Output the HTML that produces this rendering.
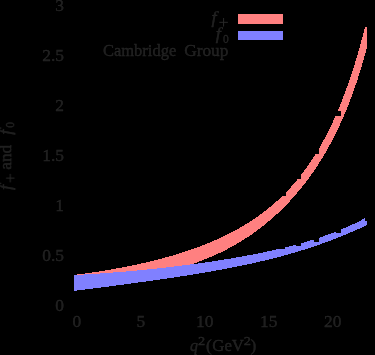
<!DOCTYPE html>
<html><head><meta charset="utf-8"><style>
html,body{margin:0;padding:0;background:#000;}
svg{display:block}
text{font-family:"Liberation Serif",serif;fill:#202020;font-size:16px;stroke:#2a2a2a;stroke-width:0.35px}
.i{font-style:italic}
.s{font-size:11.5px}
</style></head><body>
<svg width="375" height="355" viewBox="0 0 375 355">
<rect width="375" height="355" fill="#000"/>
<g shape-rendering="crispEdges">
<polygon fill="#ff8080" points="74.0,274.9 75.0,274.7 76.0,274.6 77.0,274.5 78.0,274.4 79.0,274.3 80.0,274.1 81.0,274.0 82.0,273.9 83.0,273.7 84.0,273.6 85.0,273.5 86.0,273.3 87.0,273.2 88.0,273.1 89.0,272.9 90.0,272.8 91.0,272.6 92.0,272.5 93.0,272.4 94.0,272.2 95.0,272.1 96.0,271.9 97.0,271.8 98.0,271.6 99.0,271.5 100.0,271.3 101.0,271.2 102.0,271.0 103.0,270.8 104.0,270.7 105.0,270.5 106.0,270.3 107.0,270.2 108.0,270.0 109.0,269.8 110.0,269.7 111.0,269.5 112.0,269.3 113.0,269.2 114.0,269.0 115.0,268.8 116.0,268.6 117.0,268.4 118.0,268.3 119.0,268.1 120.0,267.9 121.0,267.7 122.0,267.5 123.0,267.3 124.0,267.1 125.0,266.9 126.0,266.7 127.0,266.5 128.0,266.3 129.0,266.1 130.0,265.9 131.0,265.7 132.0,265.5 133.0,265.3 134.0,265.1 135.0,264.9 136.0,264.7 137.0,264.5 138.0,264.3 139.0,264.0 140.0,263.8 141.0,263.6 142.0,263.4 143.0,263.1 144.0,262.9 145.0,262.7 146.0,262.5 147.0,262.2 148.0,262.0 149.0,261.7 150.0,261.5 151.0,261.3 152.0,261.0 153.0,260.8 154.0,260.5 155.0,260.3 156.0,260.0 157.0,259.8 158.0,259.5 159.0,259.2 160.0,259.0 161.0,258.7 162.0,258.5 163.0,258.2 164.0,257.9 165.0,257.6 166.0,257.4 167.0,257.1 168.0,256.8 169.0,256.5 170.0,256.2 171.0,256.0 172.0,255.7 173.0,255.4 174.0,255.1 175.0,254.8 176.0,254.5 177.0,254.2 178.0,253.9 179.0,253.6 180.0,253.2 181.0,252.9 182.0,252.6 183.0,252.3 184.0,252.0 185.0,251.6 186.0,251.3 187.0,251.0 188.0,250.6 189.0,250.3 190.0,250.0 191.0,249.6 192.0,249.3 193.0,248.9 194.0,248.6 195.0,248.2 196.0,247.8 197.0,247.5 198.0,247.1 199.0,246.7 200.0,246.4 201.0,246.0 202.0,245.6 203.0,245.2 204.0,244.8 205.0,244.4 206.0,244.0 207.0,243.6 208.0,243.2 209.0,242.8 210.0,242.4 211.0,242.0 212.0,241.6 213.0,241.1 214.0,240.7 215.0,240.3 216.0,239.8 217.0,239.4 218.0,238.9 219.0,238.5 220.0,238.0 221.0,237.6 222.0,237.1 223.0,236.6 224.0,236.1 225.0,235.7 226.0,235.2 227.0,234.7 228.0,234.2 229.0,233.7 230.0,233.2 231.0,232.7 232.0,232.1 233.0,231.6 234.0,231.1 235.0,230.5 236.0,230.0 237.0,229.4 238.0,228.9 239.0,228.3 240.0,227.8 241.0,227.2 242.0,226.6 243.0,226.0 244.0,225.4 245.0,224.8 246.0,224.2 247.0,223.6 248.0,222.9 249.0,222.3 250.0,221.7 251.0,221.0 252.0,220.4 253.0,219.7 254.0,219.0 255.0,218.4 256.0,217.7 257.0,217.0 258.0,216.3 259.0,215.6 260.0,214.8 261.0,214.1 262.0,213.4 263.0,212.6 264.0,211.8 265.0,211.1 266.0,210.3 267.0,209.5 268.0,208.7 269.0,207.9 270.0,207.1 271.0,206.2 272.0,205.4 273.0,204.5 274.0,203.7 275.0,202.8 276.0,201.9 277.0,201.0 278.0,200.1 279.0,199.2 280.0,198.2 281.0,197.3 282.0,196.3 283.0,195.3 284.0,194.3 285.0,193.3 286.0,192.3 287.0,191.3 288.0,190.2 289.0,189.1 290.0,188.1 291.0,187.0 292.0,185.8 293.0,184.7 294.0,183.6 295.0,182.4 296.0,181.2 297.0,180.0 298.0,178.8 299.0,177.6 300.0,176.3 301.0,175.0 302.0,173.8 303.0,172.4 304.0,171.1 305.0,169.8 306.0,168.4 307.0,167.0 308.0,165.6 309.0,164.1 310.0,162.7 311.0,161.2 312.0,159.7 313.0,158.1 314.0,156.6 315.0,155.0 316.0,153.4 317.0,151.7 318.0,150.1 319.0,148.4 320.0,146.7 321.0,144.9 322.0,143.2 323.0,141.3 324.0,139.5 325.0,137.6 326.0,135.7 327.0,133.8 328.0,131.8 329.0,129.8 330.0,127.8 331.0,125.7 332.0,123.6 333.0,121.5 334.0,119.3 335.0,117.1 336.0,114.8 337.0,112.5 338.0,110.2 339.0,107.8 340.0,105.4 341.0,102.9 342.0,100.4 343.0,97.8 344.0,95.2 345.0,92.5 346.0,89.8 347.0,87.1 348.0,84.3 349.0,81.4 350.0,78.5 351.0,75.5 352.0,72.5 353.0,69.4 354.0,66.2 355.0,63.0 356.0,59.8 357.0,56.4 358.0,53.0 359.0,49.6 360.0,46.0 361.0,42.4 362.0,38.7 363.0,35.0 364.0,31.1 365.0,27.2 366.0,26.9 367.0,26.9 367.0,47.4 366.0,51.1 365.0,54.7 364.0,58.3 363.0,61.8 362.0,65.2 361.0,68.5 360.0,71.7 359.0,74.9 358.0,78.0 357.0,81.1 356.0,84.0 355.0,87.0 354.0,89.8 353.0,92.6 352.0,95.4 351.0,98.1 350.0,100.7 349.0,103.3 348.0,105.8 347.0,108.3 346.0,110.8 345.0,113.2 344.0,115.5 343.0,117.8 342.0,120.1 341.0,122.3 340.0,124.5 339.0,126.7 338.0,128.8 337.0,130.9 336.0,132.9 335.0,135.0 334.0,136.9 333.0,138.9 332.0,140.8 331.0,142.7 330.0,144.6 329.0,146.4 328.0,148.2 327.0,150.0 326.0,151.7 325.0,153.4 324.0,155.1 323.0,156.8 322.0,158.5 321.0,160.1 320.0,161.7 319.0,163.3 318.0,164.8 317.0,166.3 316.0,167.9 315.0,169.3 314.0,170.8 313.0,172.3 312.0,173.7 311.0,175.1 310.0,176.5 309.0,177.9 308.0,179.2 307.0,180.6 306.0,181.9 305.0,183.2 304.0,184.5 303.0,185.8 302.0,187.0 301.0,188.3 300.0,189.5 299.0,190.7 298.0,191.9 297.0,193.1 296.0,194.3 295.0,195.4 294.0,196.6 293.0,197.7 292.0,198.8 291.0,199.9 290.0,201.0 289.0,202.1 288.0,203.1 287.0,204.2 286.0,205.2 285.0,206.2 284.0,207.2 283.0,208.2 282.0,209.2 281.0,210.2 280.0,211.2 279.0,212.1 278.0,213.1 277.0,214.0 276.0,214.9 275.0,215.8 274.0,216.7 273.0,217.6 272.0,218.5 271.0,219.4 270.0,220.2 269.0,221.1 268.0,221.9 267.0,222.8 266.0,223.6 265.0,224.4 264.0,225.2 263.0,226.0 262.0,226.8 261.0,227.6 260.0,228.3 259.0,229.1 258.0,229.8 257.0,230.6 256.0,231.3 255.0,232.0 254.0,232.8 253.0,233.5 252.0,234.2 251.0,234.9 250.0,235.5 249.0,236.2 248.0,236.9 247.0,237.6 246.0,238.2 245.0,238.8 244.0,239.5 243.0,240.1 242.0,240.7 241.0,241.4 240.0,242.0 239.0,242.6 238.0,243.2 237.0,243.8 236.0,244.3 235.0,244.9 234.0,245.5 233.0,246.0 232.0,246.6 231.0,247.1 230.0,247.7 229.0,248.2 228.0,248.8 227.0,249.3 226.0,249.8 225.0,250.3 224.0,250.8 223.0,251.3 222.0,251.8 221.0,252.3 220.0,252.8 219.0,253.2 218.0,253.7 217.0,254.2 216.0,254.6 215.0,255.1 214.0,255.5 213.0,256.0 212.0,256.4 211.0,256.8 210.0,257.3 209.0,257.7 208.0,258.1 207.0,258.5 206.0,258.9 205.0,259.3 204.0,259.7 203.0,260.1 202.0,260.5 201.0,260.9 200.0,261.3 199.0,261.7 198.0,262.0 197.0,262.4 196.0,262.7 195.0,263.1 194.0,263.5 193.0,263.8 192.0,264.2 191.0,264.5 190.0,264.8 189.0,265.2 188.0,265.5 187.0,265.8 186.0,266.1 185.0,266.5 184.0,266.8 183.0,267.1 182.0,267.4 181.0,267.7 180.0,268.0 179.0,268.3 178.0,268.6 177.0,268.9 176.0,269.2 175.0,269.5 174.0,269.7 173.0,270.0 172.0,270.3 171.0,270.6 170.0,270.8 169.0,271.1 168.0,271.4 167.0,271.6 166.0,271.9 165.0,272.1 164.0,272.4 163.0,272.7 162.0,272.9 161.0,273.1 160.0,273.4 159.0,273.6 158.0,273.9 157.0,274.1 156.0,274.4 155.0,274.6 154.0,274.8 153.0,275.0 152.0,275.3 151.0,275.5 150.0,275.7 149.0,276.0 148.0,276.2 147.0,276.4 146.0,276.6 145.0,276.8 144.0,277.0 143.0,277.3 142.0,277.5 141.0,277.7 140.0,277.9 139.0,278.1 138.0,278.3 137.0,278.5 136.0,278.7 135.0,278.9 134.0,279.1 133.0,279.3 132.0,279.5 131.0,279.7 130.0,279.9 129.0,280.1 128.0,280.3 127.0,280.5 126.0,280.7 125.0,280.9 124.0,281.1 123.0,281.3 122.0,281.5 121.0,281.7 120.0,281.9 119.0,282.1 118.0,282.3 117.0,282.5 116.0,282.7 115.0,282.9 114.0,283.1 113.0,283.3 112.0,283.5 111.0,283.6 110.0,283.8 109.0,284.0 108.0,284.2 107.0,284.4 106.0,284.6 105.0,284.8 104.0,285.0 103.0,285.2 102.0,285.4 101.0,285.6 100.0,285.8 99.0,286.0 98.0,286.2 97.0,286.4 96.0,286.6 95.0,286.8 94.0,287.0 93.0,287.2 92.0,287.4 91.0,287.5 90.0,287.7 89.0,287.9 88.0,288.1 87.0,288.3 86.0,288.6 85.0,288.8 84.0,289.0 83.0,289.2 82.0,289.4 81.0,289.6 80.0,289.8 79.0,290.0 78.0,290.2 77.0,290.4 76.0,290.6 75.0,290.8 74.0,291.0"/>
<polygon fill="#8080ff" points="74.0,275.0 75.0,275.0 76.0,274.9 77.0,274.9 78.0,274.8 79.0,274.8 80.0,274.7 81.0,274.6 82.0,274.6 83.0,274.5 84.0,274.5 85.0,274.4 86.0,274.4 87.0,274.3 88.0,274.2 89.0,274.2 90.0,274.1 91.0,274.1 92.0,274.0 93.0,273.9 94.0,273.9 95.0,273.8 96.0,273.7 97.0,273.7 98.0,273.6 99.0,273.5 100.0,273.5 101.0,273.4 102.0,273.3 103.0,273.3 104.0,273.2 105.0,273.1 106.0,273.0 107.0,273.0 108.0,272.9 109.0,272.8 110.0,272.7 111.0,272.7 112.0,272.6 113.0,272.5 114.0,272.4 115.0,272.4 116.0,272.3 117.0,272.2 118.0,272.1 119.0,272.0 120.0,272.0 121.0,271.9 122.0,271.8 123.0,271.7 124.0,271.6 125.0,271.5 126.0,271.5 127.0,271.4 128.0,271.3 129.0,271.2 130.0,271.1 131.0,271.0 132.0,270.9 133.0,270.8 134.0,270.7 135.0,270.6 136.0,270.6 137.0,270.5 138.0,270.4 139.0,270.3 140.0,270.2 141.0,270.1 142.0,270.0 143.0,269.9 144.0,269.8 145.0,269.7 146.0,269.6 147.0,269.5 148.0,269.4 149.0,269.3 150.0,269.2 151.0,269.1 152.0,269.0 153.0,268.9 154.0,268.8 155.0,268.7 156.0,268.6 157.0,268.5 158.0,268.4 159.0,268.2 160.0,268.1 161.0,268.0 162.0,267.9 163.0,267.8 164.0,267.7 165.0,267.6 166.0,267.5 167.0,267.4 168.0,267.2 169.0,267.1 170.0,267.0 171.0,266.9 172.0,266.8 173.0,266.7 174.0,266.5 175.0,266.4 176.0,266.3 177.0,266.2 178.0,266.1 179.0,265.9 180.0,265.8 181.0,265.7 182.0,265.6 183.0,265.4 184.0,265.3 185.0,265.2 186.0,265.1 187.0,264.9 188.0,264.8 189.0,264.7 190.0,264.5 191.0,264.4 192.0,264.3 193.0,264.2 194.0,264.0 195.0,263.9 196.0,263.7 197.0,263.6 198.0,263.5 199.0,263.3 200.0,263.2 201.0,263.1 202.0,262.9 203.0,262.8 204.0,262.6 205.0,262.5 206.0,262.4 207.0,262.2 208.0,262.1 209.0,261.9 210.0,261.8 211.0,261.6 212.0,261.5 213.0,261.3 214.0,261.2 215.0,261.0 216.0,260.9 217.0,260.7 218.0,260.6 219.0,260.4 220.0,260.2 221.0,260.1 222.0,259.9 223.0,259.8 224.0,259.6 225.0,259.4 226.0,259.3 227.0,259.1 228.0,259.0 229.0,258.8 230.0,258.6 231.0,258.5 232.0,258.3 233.0,258.1 234.0,257.9 235.0,257.8 236.0,257.6 237.0,257.4 238.0,257.3 239.0,257.1 240.0,256.9 241.0,256.7 242.0,256.5 243.0,256.4 244.0,256.2 245.0,256.0 246.0,255.8 247.0,255.6 248.0,255.4 249.0,255.2 250.0,255.1 251.0,254.9 252.0,254.7 253.0,254.5 254.0,254.3 255.0,254.1 256.0,253.9 257.0,253.7 258.0,253.5 259.0,253.3 260.0,253.1 261.0,252.9 262.0,252.7 263.0,252.5 264.0,252.3 265.0,252.0 266.0,251.8 267.0,251.6 268.0,251.4 269.0,251.2 270.0,251.0 271.0,250.7 272.0,250.5 273.0,250.3 274.0,250.1 275.0,249.8 276.0,249.6 277.0,249.4 278.0,249.1 279.0,248.9 280.0,248.7 281.0,248.4 282.0,248.2 283.0,248.0 284.0,247.7 285.0,247.5 286.0,247.2 287.0,247.0 288.0,246.7 289.0,246.5 290.0,246.2 291.0,245.9 292.0,245.7 293.0,245.4 294.0,245.2 295.0,244.9 296.0,244.6 297.0,244.4 298.0,244.1 299.0,243.8 300.0,243.5 301.0,243.2 302.0,243.0 303.0,242.7 304.0,242.4 305.0,242.1 306.0,241.8 307.0,241.5 308.0,241.2 309.0,240.9 310.0,240.6 311.0,240.3 312.0,240.0 313.0,239.7 314.0,239.4 315.0,239.0 316.0,238.7 317.0,238.4 318.0,238.1 319.0,237.7 320.0,237.4 321.0,237.1 322.0,236.7 323.0,236.4 324.0,236.0 325.0,235.7 326.0,235.3 327.0,235.0 328.0,234.6 329.0,234.2 330.0,233.9 331.0,233.5 332.0,233.1 333.0,232.7 334.0,232.4 335.0,232.0 336.0,231.6 337.0,231.2 338.0,230.8 339.0,230.4 340.0,230.0 341.0,229.6 342.0,229.1 343.0,228.7 344.0,228.3 345.0,227.9 346.0,227.4 347.0,227.0 348.0,226.5 349.0,226.1 350.0,225.6 351.0,225.2 352.0,224.7 353.0,224.2 354.0,223.8 355.0,223.3 356.0,222.8 357.0,222.3 358.0,221.8 359.0,221.3 360.0,220.8 361.0,220.3 362.0,219.8 363.0,219.2 364.0,218.7 365.0,218.2 366.0,217.6 367.0,217.1 367.0,225.1 366.0,225.5 365.0,226.0 364.0,226.5 363.0,226.9 362.0,227.4 361.0,227.9 360.0,228.3 359.0,228.8 358.0,229.2 357.0,229.7 356.0,230.1 355.0,230.5 354.0,231.0 353.0,231.4 352.0,231.8 351.0,232.3 350.0,232.7 349.0,233.1 348.0,233.6 347.0,234.0 346.0,234.4 345.0,234.8 344.0,235.2 343.0,235.6 342.0,236.0 341.0,236.4 340.0,236.8 339.0,237.2 338.0,237.6 337.0,238.0 336.0,238.4 335.0,238.8 334.0,239.2 333.0,239.6 332.0,240.0 331.0,240.4 330.0,240.7 329.0,241.1 328.0,241.5 327.0,241.8 326.0,242.2 325.0,242.6 324.0,242.9 323.0,243.3 322.0,243.7 321.0,244.0 320.0,244.4 319.0,244.7 318.0,245.1 317.0,245.4 316.0,245.8 315.0,246.1 314.0,246.4 313.0,246.8 312.0,247.1 311.0,247.4 310.0,247.8 309.0,248.1 308.0,248.4 307.0,248.7 306.0,249.1 305.0,249.4 304.0,249.7 303.0,250.0 302.0,250.3 301.0,250.6 300.0,250.9 299.0,251.2 298.0,251.5 297.0,251.8 296.0,252.1 295.0,252.4 294.0,252.7 293.0,253.0 292.0,253.3 291.0,253.6 290.0,253.9 289.0,254.2 288.0,254.5 287.0,254.7 286.0,255.0 285.0,255.3 284.0,255.6 283.0,255.8 282.0,256.1 281.0,256.4 280.0,256.7 279.0,256.9 278.0,257.2 277.0,257.4 276.0,257.7 275.0,258.0 274.0,258.2 273.0,258.5 272.0,258.7 271.0,259.0 270.0,259.2 269.0,259.5 268.0,259.7 267.0,260.0 266.0,260.2 265.0,260.5 264.0,260.7 263.0,260.9 262.0,261.2 261.0,261.4 260.0,261.6 259.0,261.9 258.0,262.1 257.0,262.3 256.0,262.6 255.0,262.8 254.0,263.0 253.0,263.2 252.0,263.5 251.0,263.7 250.0,263.9 249.0,264.1 248.0,264.3 247.0,264.6 246.0,264.8 245.0,265.0 244.0,265.2 243.0,265.4 242.0,265.6 241.0,265.8 240.0,266.0 239.0,266.2 238.0,266.4 237.0,266.6 236.0,266.8 235.0,267.0 234.0,267.2 233.0,267.4 232.0,267.6 231.0,267.8 230.0,268.0 229.0,268.2 228.0,268.4 227.0,268.6 226.0,268.8 225.0,269.0 224.0,269.2 223.0,269.3 222.0,269.5 221.0,269.7 220.0,269.9 219.0,270.1 218.0,270.3 217.0,270.4 216.0,270.6 215.0,270.8 214.0,271.0 213.0,271.2 212.0,271.3 211.0,271.5 210.0,271.7 209.0,271.8 208.0,272.0 207.0,272.2 206.0,272.4 205.0,272.5 204.0,272.7 203.0,272.9 202.0,273.0 201.0,273.2 200.0,273.4 199.0,273.5 198.0,273.7 197.0,273.9 196.0,274.0 195.0,274.2 194.0,274.4 193.0,274.5 192.0,274.7 191.0,274.8 190.0,275.0 189.0,275.2 188.0,275.3 187.0,275.5 186.0,275.6 185.0,275.8 184.0,275.9 183.0,276.1 182.0,276.2 181.0,276.4 180.0,276.6 179.0,276.7 178.0,276.9 177.0,277.0 176.0,277.2 175.0,277.3 174.0,277.5 173.0,277.6 172.0,277.8 171.0,277.9 170.0,278.1 169.0,278.2 168.0,278.3 167.0,278.5 166.0,278.6 165.0,278.8 164.0,278.9 163.0,279.1 162.0,279.2 161.0,279.4 160.0,279.5 159.0,279.7 158.0,279.8 157.0,279.9 156.0,280.1 155.0,280.2 154.0,280.4 153.0,280.5 152.0,280.6 151.0,280.8 150.0,280.9 149.0,281.1 148.0,281.2 147.0,281.3 146.0,281.5 145.0,281.6 144.0,281.8 143.0,281.9 142.0,282.0 141.0,282.2 140.0,282.3 139.0,282.4 138.0,282.6 137.0,282.7 136.0,282.9 135.0,283.0 134.0,283.1 133.0,283.3 132.0,283.4 131.0,283.5 130.0,283.7 129.0,283.8 128.0,283.9 127.0,284.1 126.0,284.2 125.0,284.3 124.0,284.5 123.0,284.6 122.0,284.7 121.0,284.9 120.0,285.0 119.0,285.1 118.0,285.3 117.0,285.4 116.0,285.5 115.0,285.7 114.0,285.8 113.0,285.9 112.0,286.1 111.0,286.2 110.0,286.3 109.0,286.5 108.0,286.6 107.0,286.7 106.0,286.9 105.0,287.0 104.0,287.1 103.0,287.2 102.0,287.4 101.0,287.5 100.0,287.6 99.0,287.8 98.0,287.9 97.0,288.0 96.0,288.2 95.0,288.3 94.0,288.4 93.0,288.5 92.0,288.7 91.0,288.8 90.0,288.9 89.0,289.1 88.0,289.2 87.0,289.3 86.0,289.4 85.0,289.6 84.0,289.7 83.0,289.8 82.0,289.9 81.0,290.1 80.0,290.2 79.0,290.3 78.0,290.4 77.0,290.6 76.0,290.7 75.0,290.8 74.0,291.0"/>
<rect x="336" y="111" width="5.0" height="4.8" fill="#000"/><rect x="314" y="148.6" width="5.0" height="5.0" fill="#000"/><rect x="296.2" y="173.8" width="5.0" height="5.0" fill="#000"/><rect x="280.5" y="190.7" width="5.0" height="5.0" fill="#000"/><rect x="279.8" y="243.8" width="5.0" height="5.0" fill="#000"/><rect x="295.6" y="240.8" width="5.2" height="5.0" fill="#000"/><rect x="313.7" y="236.6" width="5.1" height="5.0" fill="#000"/><rect x="336" y="228.4" width="4.6" height="5.0" fill="#000"/><rect x="365" y="216.3" width="2.5" height="5.0" fill="#000"/>
<rect x="238" y="14" width="45" height="10" fill="#ff8080"/>
<rect x="238" y="31" width="45" height="9" fill="#8080ff"/>
</g>
<g opacity="0.999">
<text transform="translate(64 10.7) scale(1.086 1)" text-anchor="end">3</text><text transform="translate(64 60.7) scale(1.086 1)" text-anchor="end">2.5</text><text transform="translate(64 110.7) scale(1.086 1)" text-anchor="end">2</text><text transform="translate(64 160.7) scale(1.086 1)" text-anchor="end">1.5</text><text transform="translate(64 210.7) scale(1.086 1)" text-anchor="end">1</text><text transform="translate(64 260.7) scale(1.086 1)" text-anchor="end">0.5</text><text transform="translate(64 310.7) scale(1.086 1)" text-anchor="end">0</text>
<text transform="translate(76.8 327.3) scale(1.086 1)" text-anchor="middle">0</text><text transform="translate(140.8 327.3) scale(1.086 1)" text-anchor="middle">5</text><text transform="translate(204.8 327.3) scale(1.086 1)" text-anchor="middle">10</text><text transform="translate(268.8 327.3) scale(1.086 1)" text-anchor="middle">15</text><text transform="translate(332.8 327.3) scale(1.086 1)" text-anchor="middle">20</text>
<text transform="translate(103 55.9) scale(1.03 1)" text-anchor="start">Cambridge</text><text transform="translate(184.2 55.9) scale(1.083 1)" text-anchor="start">Group</text>
<text transform="translate(211.4 22.8) scale(1.15 1)" text-anchor="start" class="i">f</text><path d="M219.29999999999998 22.3H227.9M223.6 18.0V26.6" stroke="#2a2a2a" stroke-width="1.0" fill="none"/>
<text transform="translate(215.7 39.3) scale(1.15 1)" text-anchor="start" class="i">f</text><text transform="translate(222.9 42.6) scale(1.0 1)" text-anchor="start" class="s">0</text>
<text transform="translate(190 350.8) scale(1.0 1)" text-anchor="start" class="i">q</text><text transform="translate(198 345.2) scale(1.25 1)" text-anchor="start" class="s">2</text><text transform="translate(206 350.8) scale(1.086 1)" text-anchor="start">(</text><text transform="translate(212.3 350.8) scale(1.05 1)" text-anchor="start">GeV</text><text transform="translate(243.7 344.8) scale(1.25 1)" text-anchor="start" class="s">2</text><text transform="translate(250.6 350.8) scale(1.086 1)" text-anchor="start">)</text>
<g transform="translate(11.2,192) rotate(-90)"><text transform="translate(2.0 0) scale(1.15 1)" text-anchor="start" class="i">f</text><path d="M9.600000000000001 -0.9H18.2M13.9 -5.2V3.4" stroke="#2a2a2a" stroke-width="1.0" fill="none"/><text transform="translate(22.2 0) scale(1.086 1)" text-anchor="start">and</text><text transform="translate(57.2 0) scale(1.15 1)" text-anchor="start" class="i">f</text><text transform="translate(64.2 3) scale(1.0 1)" text-anchor="start" class="s">0</text></g>
</g>
</svg>
</body></html>
